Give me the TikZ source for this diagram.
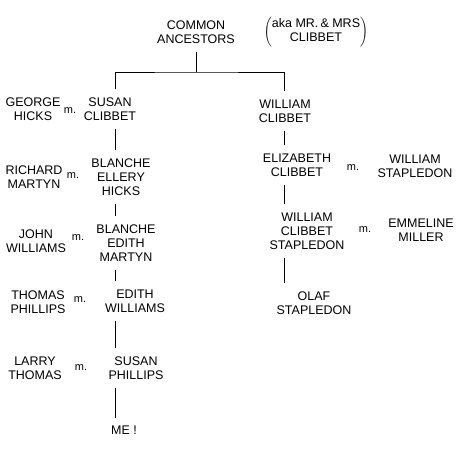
\documentclass[tikz,border=0pt]{standalone}
\usepackage{fontspec}
\setmainfont{Liberation Sans}
\usetikzlibrary{positioning}

\begin{document}
\begin{tikzpicture}[x=1pt, y=-1pt,
    person/.style={font=\fontsize{12.5}{14}\selectfont, align=center, inner sep=2pt},
    wed/.style={font=\fontsize{11}{12}\selectfont, inner sep=1pt},
    link/.style={line width=0.9pt, shorten <=6pt, shorten >=6pt}
  ]
  \useasboundingbox (0,0) rectangle (470,457);
  \coordinate (lcol) at (115,0);
  \coordinate (rcol) at (284,0);
  \coordinate (bar) at (193,72);

  % Ancestors
  \node[person] (anc) at (196,32) {COMMON\\ANCESTORS};
  \node[person] (aka) at (316,32) {$\left(\begin{tabular}{@{}c@{}}aka MR.\,\& MRS\\CLIBBET\end{tabular}\right)$};

  % Left line
  \node[person] (susanC) at (110,109) {SUSAN\\CLIBBET};
  \node[person] (george) at (33,109) {GEORGE\\HICKS};
  \node[wed] (m1) at (70,111) {m.};

  \node[person] (blancheEH) at (121,177) {BLANCHE\\ELLERY\\HICKS};
  \node[person] (richard) at (34,177) {RICHARD\\MARTYN};
  \node[wed] (m2) at (73,176) {m.};

  \node[person] (blancheEM) at (126,243) {BLANCHE\\EDITH\\MARTYN};
  \node[person] (john) at (36,241) {JOHN\\WILLIAMS};
  \node[wed] (m3) at (78,238) {m.};

  \node[person] (edithW) at (135,301) {EDITH\\WILLIAMS};
  \node[person] (thomasP) at (38,302) {THOMAS\\PHILLIPS};
  \node[wed] (m4) at (80,300) {m.};

  \node[person] (susanP) at (136,368) {SUSAN\\PHILLIPS};
  \node[person] (larryT) at (35,368) {LARRY\\THOMAS};
  \node[wed] (m5) at (81,368) {m.};

  \node[person] (me) at (124,430) {ME !};

  % Right line
  \node[person] (williamC) at (285,111) {WILLIAM\\CLIBBET};

  \node[person] (elizabeth) at (297,165) {ELIZABETH\\CLIBBET};
  \node[person] (williamS) at (415,166) {WILLIAM\\STAPLEDON};
  \node[wed] (m6) at (353,168) {m.};

  \node[person] (williamCS) at (307,231) {WILLIAM\\CLIBBET\\STAPLEDON};
  \node[person] (emmeline) at (421,230) {EMMELINE\\MILLER};
  \node[wed] (m7) at (365,230) {m.};

  \node[person] (olaf) at (314,303) {OLAF\\STAPLEDON};

  % Links
  \draw[link, shorten >=0pt] (anc.south) -- (anc.south |- bar);
  \draw[link] (susanC.north -| lcol) |- (bar) -| (williamC.north -| rcol);
  \draw[link] (susanC.south -| lcol) -- (blancheEH.north -| lcol);
  \draw[link] (blancheEH.south -| lcol) -- (blancheEM.north -| lcol);
  \draw[link] (blancheEM.south -| lcol) -- (edithW.north -| lcol);
  \draw[link] (edithW.south -| lcol) -- (susanP.north -| lcol);
  \draw[link] (susanP.south -| lcol) -- (me.north -| lcol);
  \draw[link] (williamC.south -| rcol) -- (elizabeth.north -| rcol);
  \draw[link] (elizabeth.south -| rcol) -- (williamCS.north -| rcol);
  \draw[link] (williamCS.south -| rcol) -- (olaf.north -| rcol);
\end{tikzpicture}
\end{document}
